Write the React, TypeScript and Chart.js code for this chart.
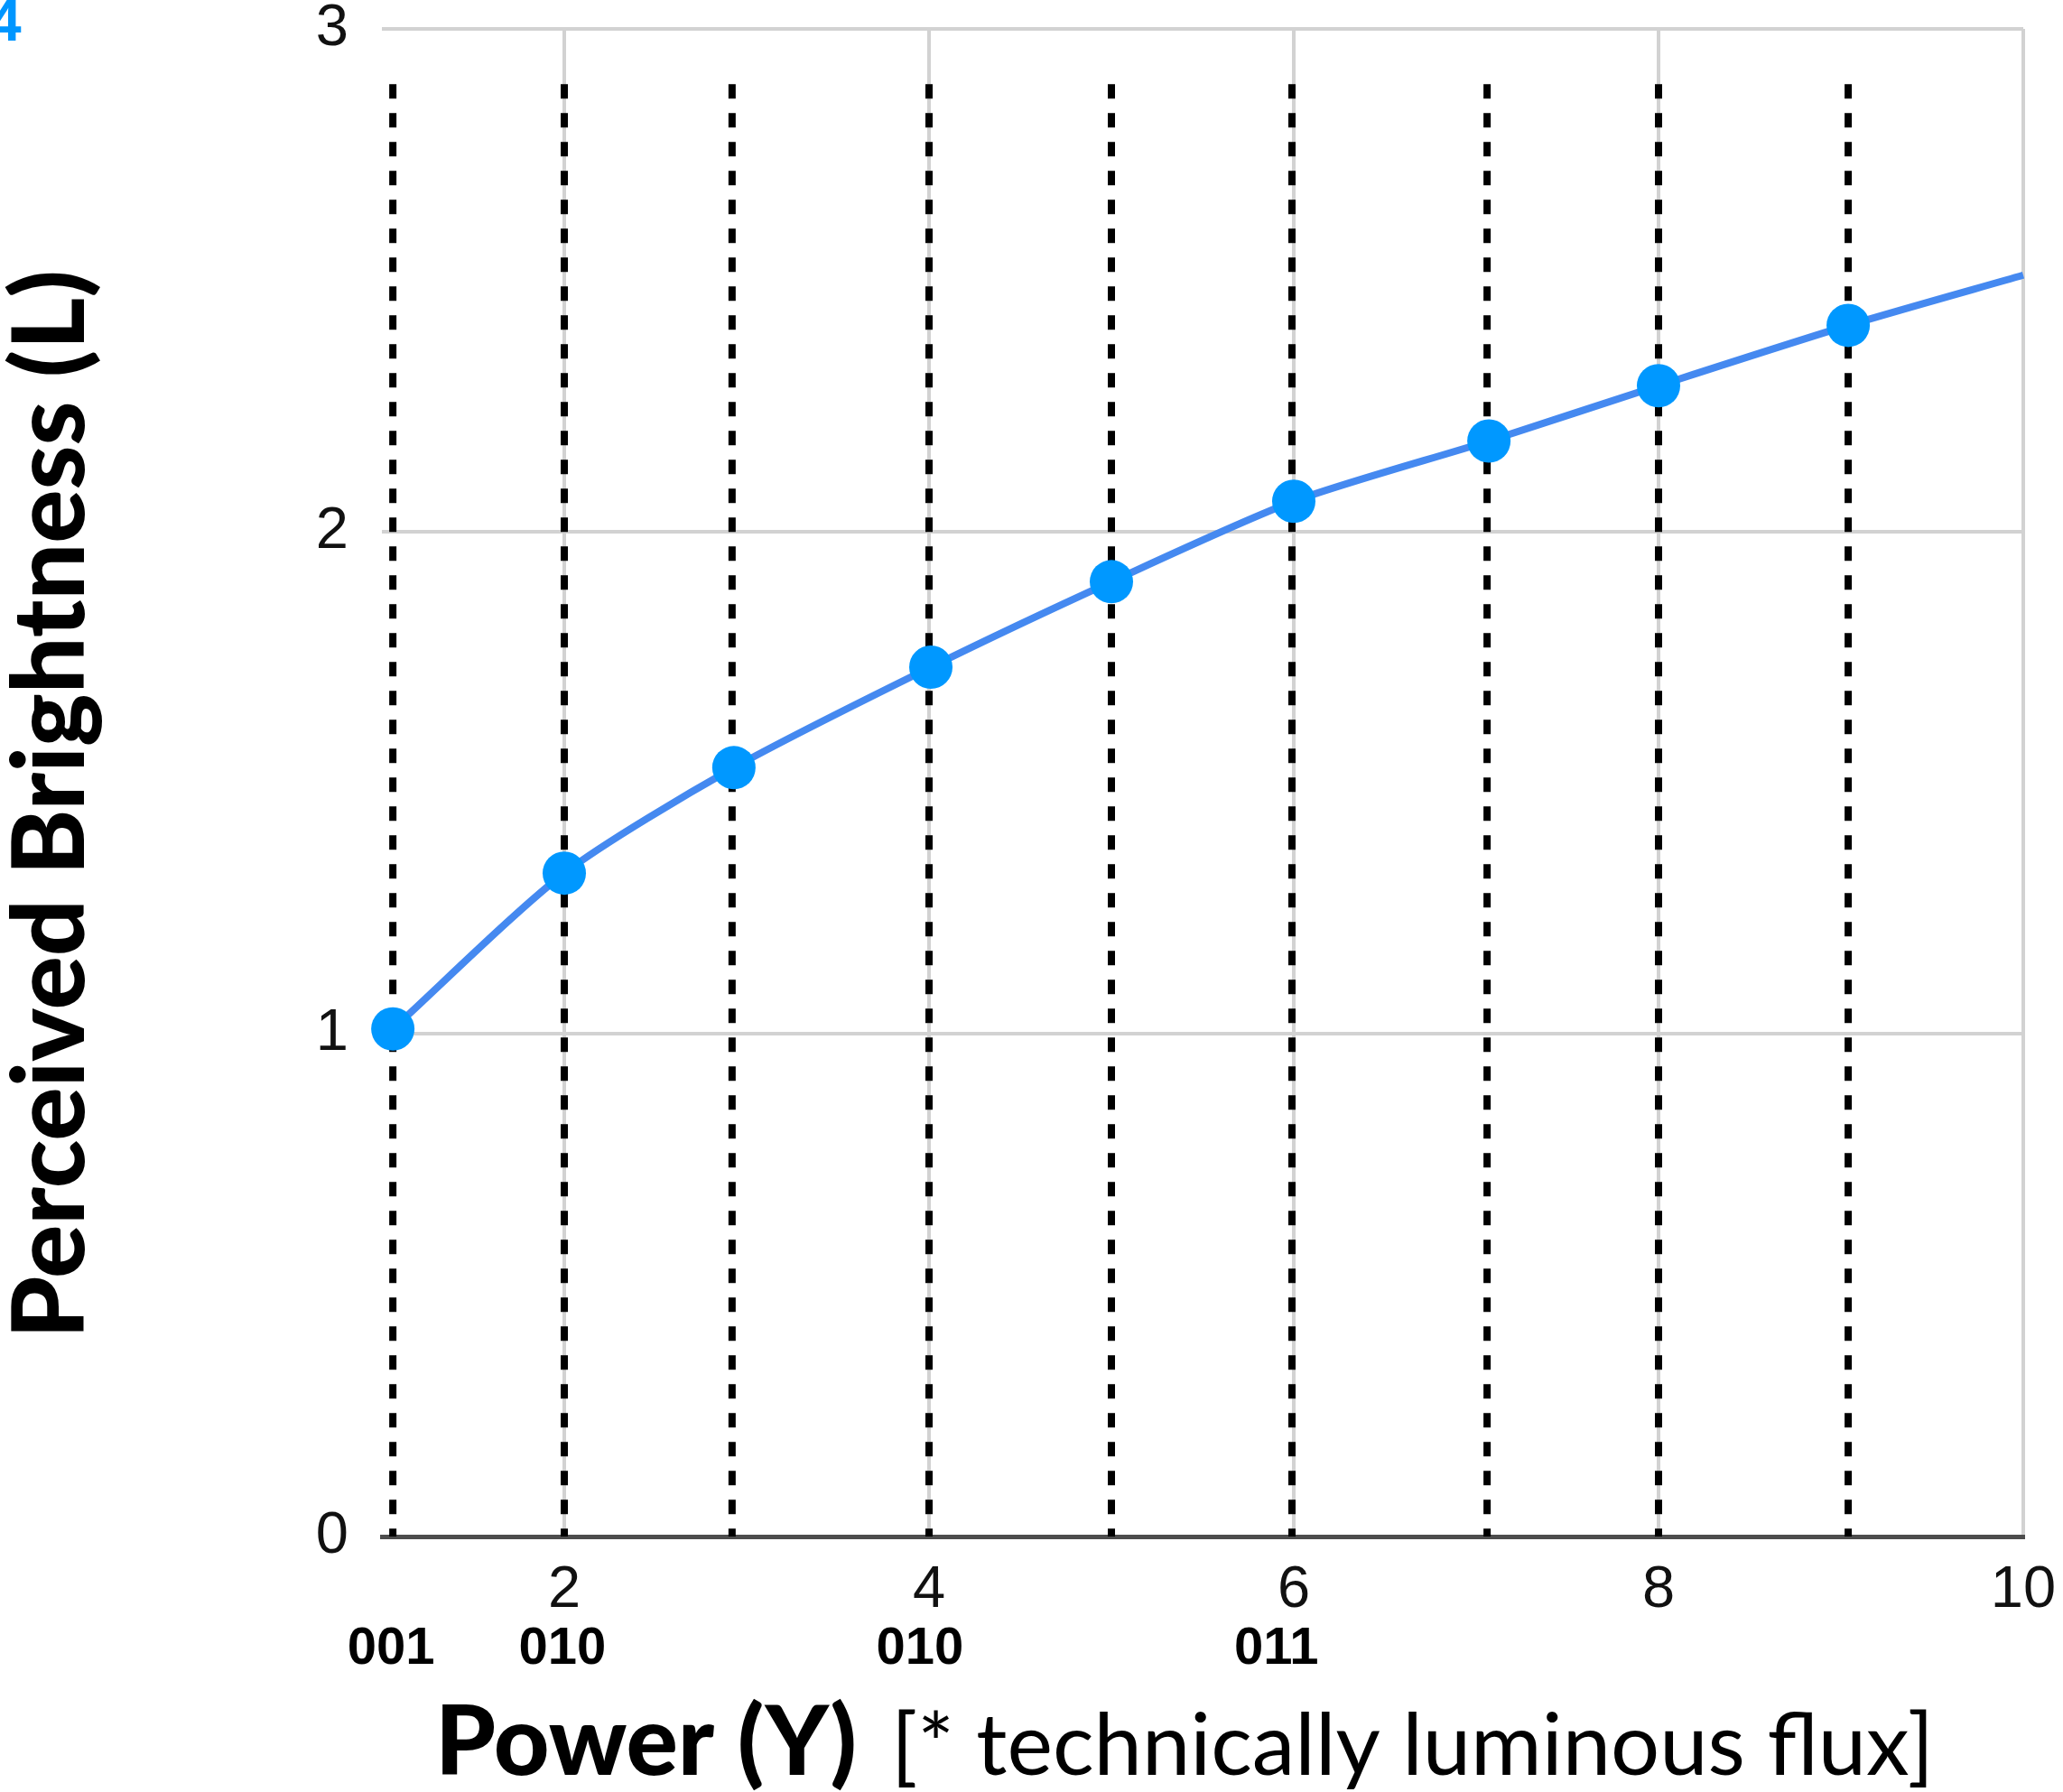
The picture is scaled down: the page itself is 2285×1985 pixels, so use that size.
import React, { useEffect, useRef } from "react";
import { Chart, registerables } from "chart.js";

Chart.register(...registerables);

// ---- data ----
const powerValues = [1.06, 2.0, 2.93, 4.01, 5.0, 6.0, 7.07, 8.0, 9.04, 10];
const brightnessValues = [1.01, 1.32, 1.53, 1.73, 1.9, 2.06, 2.18, 2.29, 2.41, 2.51];
const markedPoint = [true, true, true, true, true, true, true, true, true, false];

const guideXs = [1.06, 2.0, 2.92, 4.0, 5.0, 5.99, 7.06, 8.0, 9.04];
const guideTop = 2.89;

const xTickValues = [2, 4, 6, 8, 10];
const yTickValues = [0, 1, 2, 3];

const binaryLabels = ["001", "010", "010", "011"];
const binaryLabelXs = [1.05, 1.99, 3.95, 5.905];

const yTitle = "Perceived Brightness (L)";
const xTitleBold = "Power (Y)";
const xTitleRegular = "[* technically luminous flux]";
const figureTag = "4";

const W = 2285;
const H = 1985;

const TICK_FONT = '"Liberation Sans", Arial, sans-serif';
const TITLE_FONT = 'Lato, "Open Sans", sans-serif';

function fitFont(ctx: CanvasRenderingContext2D, text: string, weight: string, family: string, target: number) {
  ctx.font = `${weight} 100px ${family}`;
  const w = ctx.measureText(text).width;
  return (100 * target) / w;
}

const annotationsPlugin = {
  id: "annotations",
  afterDraw(chart: any) {
    const { ctx, chartArea } = chart;
    const xs = chart.scales.x;
    ctx.save();

    // binary code labels under the axis
    ctx.fillStyle = "#000";
    ctx.textAlign = "center";
    ctx.textBaseline = "alphabetic";
    ctx.font = `bold 58px ${TICK_FONT}`;
    binaryLabels.forEach((t, i) => {
      ctx.fillText(t, xs.getPixelForValue(binaryLabelXs[i]), chartArea.bottom + 141);
    });

    // x axis title: bold part + regular part
    ctx.textAlign = "left";
    const boldSize = fitFont(ctx, xTitleBold, "900", TITLE_FONT, 467);
    const regSize = fitFont(ctx, xTitleRegular, "normal", TITLE_FONT, 1155);
    const baseY = chartArea.bottom + 264;
    ctx.font = `900 ${boldSize}px ${TITLE_FONT}`;
    ctx.fillText(xTitleBold, 482, baseY);
    ctx.font = `normal ${regSize}px ${TITLE_FONT}`;
    ctx.fillText(xTitleRegular, 987, baseY);

    // y axis title (rotated)
    const ySize = fitFont(ctx, yTitle, "900", TITLE_FONT, 1184);
    ctx.save();
    ctx.translate(93, 891);
    ctx.rotate(-Math.PI / 2);
    ctx.textAlign = "center";
    ctx.font = `900 ${ySize}px ${TITLE_FONT}`;
    ctx.fillText(yTitle, 0, 0);
    ctx.restore();

    // clipped blue figure tag at top-left
    ctx.fillStyle = "#0096ff";
    ctx.textAlign = "left";
    ctx.font = `bold 64px ${TICK_FONT}`;
    ctx.fillText(figureTag, -12, 45);

    ctx.restore();
  },
};

export default function App() {
  const canvasRef = useRef<HTMLCanvasElement | null>(null);

  useEffect(() => {
    const canvas = canvasRef.current;
    if (!canvas) return;

    const guideDatasets = guideXs.map((gx) => ({
      type: "line" as const,
      data: [
        { x: gx, y: guideTop },
        { x: gx, y: 0 },
      ],
      borderColor: "#000000",
      borderWidth: 8,
      borderDash: [16, 16],
      pointRadius: 0,
      tension: 0,
      order: 2,
    }));

    const chart = new Chart(canvas, {
      type: "line",
      data: {
        datasets: [
          {
            data: powerValues.map((x, i) => ({ x, y: brightnessValues[i] })),
            borderColor: "#4589f0",
            borderWidth: 8,
            tension: 0.25,
            pointRadius: markedPoint.map((m) => (m ? 24 : 0)),
            pointHoverRadius: markedPoint.map((m) => (m ? 24 : 0)),
            pointBackgroundColor: "#0098ff",
            pointBorderWidth: 0,
            clip: false as any,
            order: 0,
          } as any,
          ...guideDatasets,
        ],
      },
      options: {
        animation: false,
        responsive: false,
        maintainAspectRatio: false,
        devicePixelRatio: 1,
        events: [],
        layout: { padding: { left: 0, right: 44, top: 32, bottom: 0 } },
        plugins: {
          legend: { display: false },
          tooltip: { enabled: false },
          title: { display: false },
        },
        scales: {
          x: {
            type: "linear",
            min: 1,
            max: 10,
            afterBuildTicks: (s: any) => {
              s.ticks = xTickValues.map((v) => ({ value: v }));
            },
            afterFit: (s: any) => {
              s.height = 283;
              s.paddingLeft = 0;
              s.paddingRight = 0;
            },
            grid: { color: "#d2d2d2", lineWidth: 4, drawTicks: false },
            border: { display: true, color: "#4d4d4d", width: 5 },
            ticks: {
              font: { family: TICK_FONT, size: 65, lineHeight: 1 },
              color: "#111111",
              padding: 28,
              maxRotation: 0,
              autoSkip: false,
            },
          },
          y: {
            type: "linear",
            min: 0,
            max: 3,
            afterBuildTicks: (s: any) => {
              s.ticks = yTickValues.map((v) => ({ value: v }));
            },
            afterFit: (s: any) => {
              s.width = 423;
              s.paddingTop = 0;
              s.paddingBottom = 0;
            },
            grid: { color: "#d2d2d2", lineWidth: 4, drawTicks: false },
            border: { display: false },
            ticks: {
              font: { family: TICK_FONT, size: 65, lineHeight: 1 },
              color: "#111111",
              padding: 37,
            },
          },
        },
      } as any,
      plugins: [annotationsPlugin],
    });

    return () => chart.destroy();
  }, []);

  return (
    <div style={{ position: "absolute", left: 0, top: 0, width: W, height: H, background: "#ffffff" }}>
      <canvas ref={canvasRef} width={W} height={H} style={{ display: "block", width: W, height: H }} />
    </div>
  );
}
